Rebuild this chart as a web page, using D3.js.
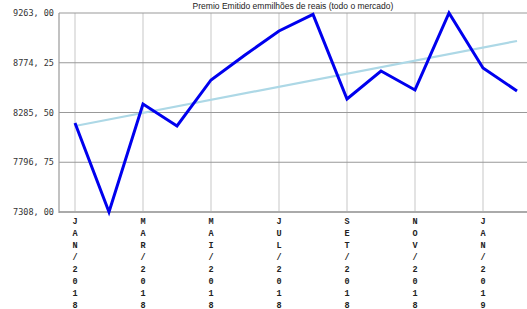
<!DOCTYPE html>
<html>
<head>
<meta charset="utf-8">
<script src="https://cdn.jsdelivr.net/npm/d3@7"></script>
<style>
  body { margin: 0; background: #fff; }
  svg { display: block; }
</style>
</head>
<body>
<div id="container"></div>
<script>
const months = ['JAN/2018','FEV/2018','MAR/2018','ABR/2018','MAI/2018','JUN/2018','JUL/2018',
                'AGO/2018','SET/2018','OUT/2018','NOV/2018','DEZ/2018','JAN/2019','FEV/2019'];
const premio = [8182, 7308, 8369, 8153, 8605, 8850, 9086, 9250, 8418, 8693, 8507, 9263, 8723, 8497];
const trendEnds = [8153, 8988];
const yTicks = [7308, 7796.75, 8285.5, 8774.25, 9263];
const labelEvery = 2;

const w = 527;
const h = 309;
const padL = 59, padR = 527, padT = 13, padB = 212;

const svg = d3.select('#container')
              .append('svg')
              .attr('width', w)
              .attr('height', h);

const xScale = d3.scalePoint()
                 .domain(months)
                 .range([75, 517]);
const yScale = d3.scaleLinear()
                 .domain([7308, 9263])
                 .range([padB, padT]);

// vertical grid at labelled months
svg.append('g')
   .selectAll('line')
   .data(months.filter((d, i) => i % labelEvery === 0))
   .enter()
   .append('line')
   .attr('x1', (d) => xScale(d))
   .attr('x2', (d) => xScale(d))
   .attr('y1', padT)
   .attr('y2', padB)
   .attr('stroke', '#e3e3e3')
   .attr('stroke-width', 2);

// horizontal grid
svg.append('g')
   .selectAll('line')
   .data(yTicks)
   .enter()
   .append('line')
   .attr('x1', padL)
   .attr('x2', padR)
   .attr('y1', (d) => yScale(d))
   .attr('y2', (d) => yScale(d))
   .attr('stroke', (d) => d === 7308 ? '#aaa' : '#999')
   .attr('stroke-width', (d) => d === 7308 ? 2 : 1.2);

svg.append('line')
   .attr('x1', padL).attr('x2', padL)
   .attr('y1', padT).attr('y2', padB + 1)
   .attr('stroke', '#999')
   .attr('stroke-width', 1.2);

// y labels
const fmt = (v) => v.toFixed(2).replace('.', ', ');
svg.append('g')
   .selectAll('text')
   .data(yTicks)
   .enter()
   .append('text')
   .attr('x', 54)
   .attr('y', (d) => yScale(d) + 3)
   .attr('text-anchor', 'end')
   .attr('font-family', 'DejaVu Sans Mono, monospace')
   .attr('font-size', 8.5)
   .attr('fill', '#333')
   .text(fmt);

// x labels: one character per line
const xl = svg.append('g')
              .selectAll('g')
              .data(months.filter((d, i) => i % labelEvery === 0))
              .enter()
              .append('g');
xl.selectAll('text')
  .data((d) => d.split('').map((c) => ({c: c, m: d})))
  .enter()
  .append('text')
  .attr('x', (d) => xScale(d.m))
  .attr('y', (d, i) => 224 + i * 12)
  .attr('text-anchor', 'middle')
  .attr('font-family', 'Liberation Mono, monospace')
  .attr('font-weight', 'bold')
  .attr('font-size', 8.5)
  .attr('fill', '#222')
  .text((d) => d.c);

// trend line
svg.append('line')
   .attr('x1', xScale(months[0]))
   .attr('y1', yScale(trendEnds[0]))
   .attr('x2', xScale(months[months.length - 1]))
   .attr('y2', yScale(trendEnds[1]))
   .attr('stroke', '#add8e6')
   .attr('stroke-width', 2.2);

// main series
const line = d3.line()
               .x((d, i) => xScale(months[i]))
               .y((d) => yScale(d));
svg.append('path')
   .datum(premio)
   .attr('d', line)
   .attr('fill', 'none')
   .attr('stroke', '#0000ee')
   .attr('stroke-width', 3)
   .attr('stroke-linejoin', 'miter');

svg.append('text')
   .attr('x', 293)
   .attr('y', 9)
   .attr('text-anchor', 'middle')
   .attr('font-family', 'Liberation Sans, Arial, sans-serif')
   .attr('font-size', 8.5)
   .attr('fill', '#222')
   .text('Premio Emitido emmilhões de reais (todo o mercado)');
</script>
</body>
</html>
